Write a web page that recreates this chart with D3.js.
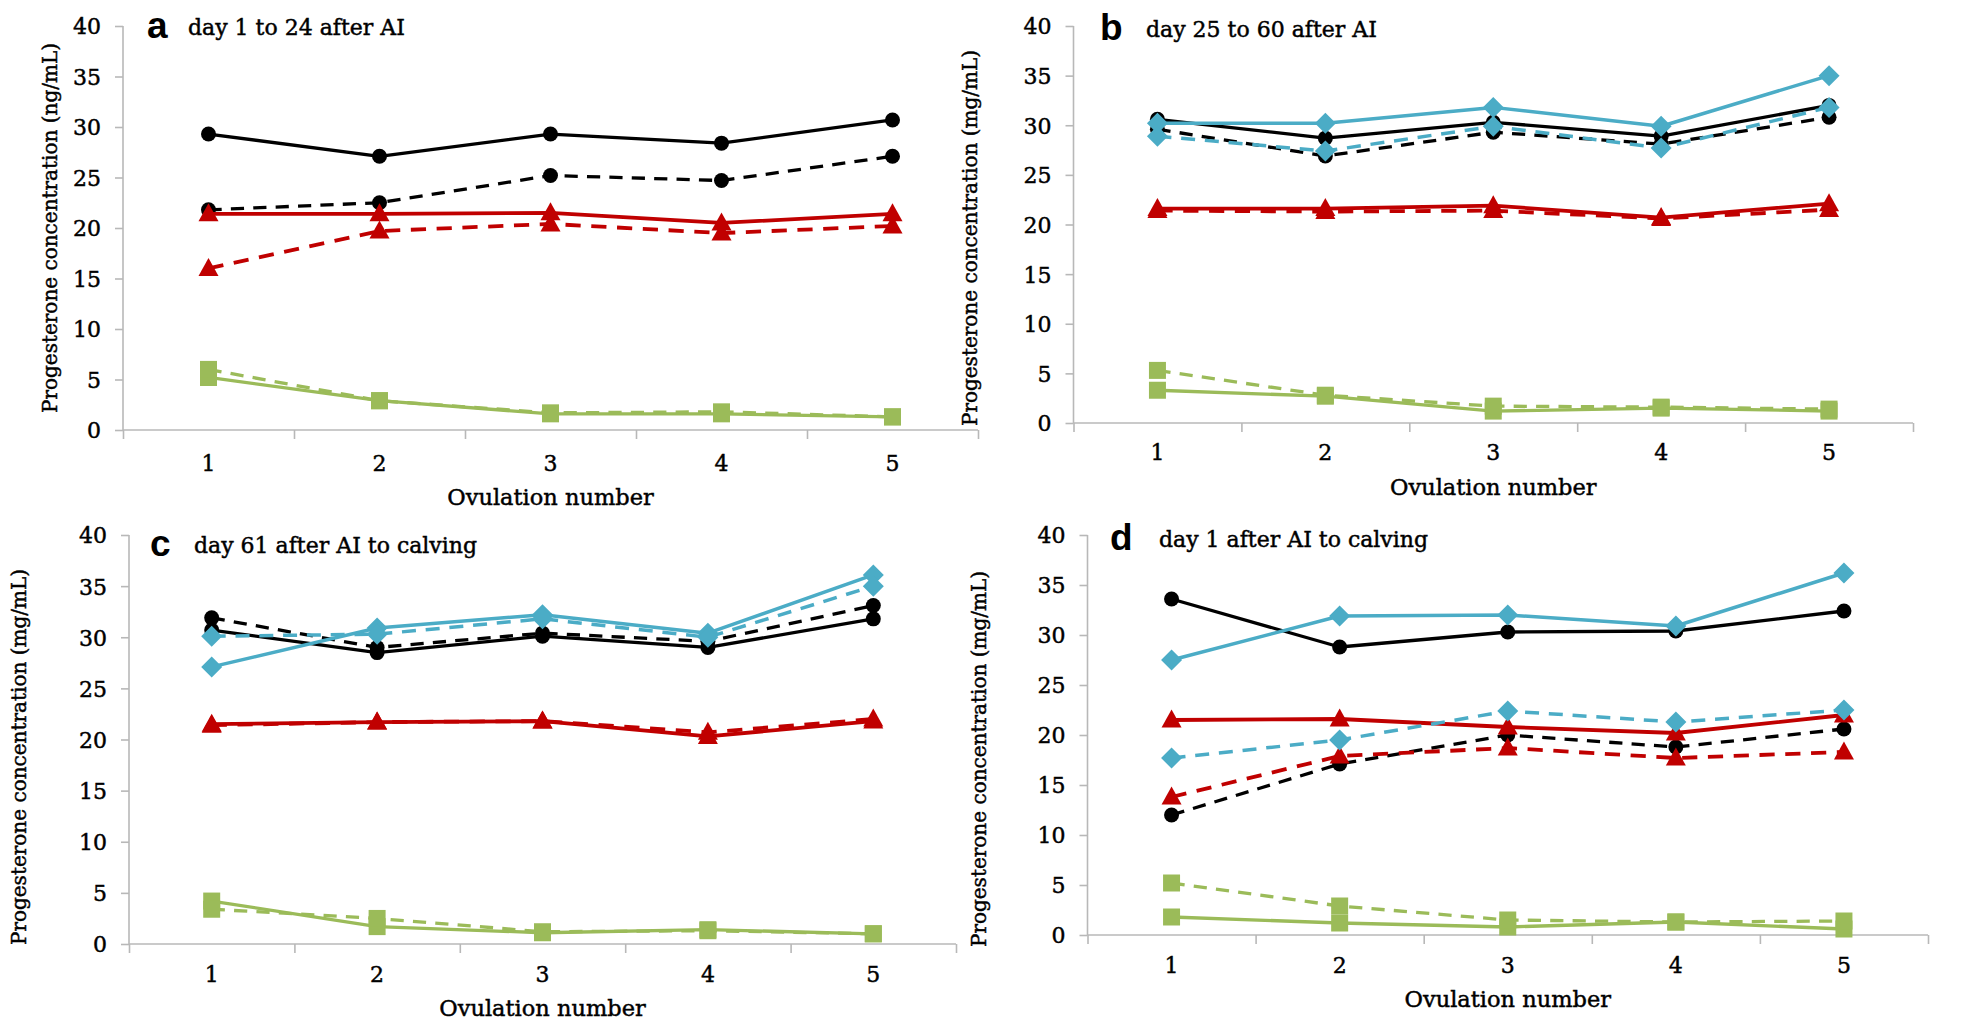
<!DOCTYPE html>
<html>
<head>
<meta charset="utf-8">
<script src="https://cdn.jsdelivr.net/npm/d3@7"></script>
<style>
  html, body { margin: 0; padding: 0; background: #fff; }
  svg { display: block; }
</style>
</head>
<body>
<svg id="chart" width="1961" height="1027"></svg>
<script>
// ---------------- DATA ----------------
const categories = [1, 2, 3, 4, 5];
const yTicks = [0, 5, 10, 15, 20, 25, 30, 35, 40];
const panelLetters = ["a", "b", "c", "d"];
const panelTitles = ["day 1 to 24 after AI", "day 25 to 60 after AI", "day 61 after AI to calving", "day 1 after AI to calving"];
const yAxisTitles = ["Progesterone concentration (ng/mL)", "Progesterone concentration (mg/mL)", "Progesterone concentration (mg/mL)", "Progesterone concentration (mg/mL)"];
const xAxisTitle = "Ovulation number";

// panel a
const a_blackSolid  = [29.3, 27.1, 29.3, 28.4, 30.7];
const a_blackDashed = [21.8, 22.5, 25.2, 24.7, 27.1];
const a_redSolid    = [21.4, 21.4, 21.5, 20.5, 21.4];
const a_redDashed   = [16.0, 19.7, 20.4, 19.5, 20.2];
const a_greenSolid  = [5.2, 2.9, 1.6, 1.6, 1.3];
const a_greenDashed = [6.0, 2.9, 1.7, 1.8, 1.3];
// panel b
const b_blackSolid  = [30.6, 28.7, 30.3, 28.9, 32.0];
const b_blackDashed = [29.6, 26.9, 29.3, 28.1, 30.8];
const b_redSolid    = [21.6, 21.6, 21.9, 20.7, 22.1];
const b_redDashed   = [21.4, 21.3, 21.4, 20.6, 21.5];
const b_greenSolid  = [3.3, 2.7, 1.2, 1.5, 1.2];
const b_greenDashed = [5.3, 2.8, 1.7, 1.6, 1.4];
const b_cyanSolid   = [30.2, 30.2, 31.8, 29.9, 35.0];
const b_cyanDashed  = [28.9, 27.4, 29.9, 27.7, 31.8];
// panel c
const c_blackSolid  = [30.7, 28.5, 30.1, 29.0, 31.8];
const c_blackDashed = [31.9, 29.0, 30.4, 29.6, 33.1];
const c_redSolid    = [21.5, 21.7, 21.8, 20.3, 21.8];
const c_redDashed   = [21.4, 21.7, 21.8, 20.7, 22.0];
const c_greenSolid  = [4.2, 1.7, 1.1, 1.4, 1.0];
const c_greenDashed = [3.4, 2.5, 1.2, 1.3, 1.0];
const c_cyanSolid   = [27.1, 30.9, 32.2, 30.4, 36.1];
const c_cyanDashed  = [30.1, 30.3, 31.8, 30.0, 35.0];
// panel d
const d_blackSolid  = [33.6, 28.8, 30.3, 30.4, 32.4];
const d_blackDashed = [12.0, 17.1, 20.0, 18.8, 20.6];
const d_redSolid    = [21.5, 21.6, 20.8, 20.2, 22.0];
const d_redDashed   = [13.8, 17.9, 18.7, 17.7, 18.3];
const d_greenSolid  = [1.8, 1.2, 0.8, 1.3, 0.6];
const d_greenDashed = [5.2, 2.9, 1.5, 1.3, 1.4];
const d_cyanSolid   = [27.5, 31.9, 32.0, 30.9, 36.2];
const d_cyanDashed  = [17.7, 19.5, 22.4, 21.3, 22.5];

// ---------------- STYLE / LAYOUT ----------------
const COLORS = { black: "#000000", red: "#c00000", green: "#9bbb59", cyan: "#4bacc6" };
const WIDTHS = { black: 3.3, red: 3.8, green: 3.3, cyan: 3.5 };
const SHAPES = { black: "circle", red: "triangle", green: "square", cyan: "diamond" };

function seriesFor(p) {
  const src = {
    a: [["black", false, a_blackSolid], ["black", true, a_blackDashed], ["red", false, a_redSolid], ["red", true, a_redDashed], ["green", false, a_greenSolid], ["green", true, a_greenDashed]],
    b: [["black", false, b_blackSolid], ["black", true, b_blackDashed], ["red", false, b_redSolid], ["red", true, b_redDashed], ["green", false, b_greenSolid], ["green", true, b_greenDashed], ["cyan", false, b_cyanSolid], ["cyan", true, b_cyanDashed]],
    c: [["black", false, c_blackSolid], ["black", true, c_blackDashed], ["red", false, c_redSolid], ["red", true, c_redDashed], ["green", false, c_greenSolid], ["green", true, c_greenDashed], ["cyan", false, c_cyanSolid], ["cyan", true, c_cyanDashed]],
    d: [["black", false, d_blackSolid], ["black", true, d_blackDashed], ["red", false, d_redSolid], ["red", true, d_redDashed], ["green", false, d_greenSolid], ["green", true, d_greenDashed], ["cyan", false, d_cyanSolid], ["cyan", true, d_cyanDashed]]
  }[p];
  return src.map(([color, dashed, values]) => ({ color, dashed, values }));
}

const layouts = [
  { left: 123,    right: 978,  top: 26,  bottom: 430, yLabX: 50,  yLabCY: 228, letterX: 147,  titleX: 188,  titleBase: 35,  tickBase: 41, xLabBase: 75 },
  { left: 1073.5, right: 1913, top: 26,  bottom: 423, yLabX: 970, yLabCY: 238, letterX: 1100, titleX: 1146, titleBase: 37,  tickBase: 37, xLabBase: 72 },
  { left: 129,    right: 956,  top: 535, bottom: 944, yLabX: 19,  yLabCY: 757, letterX: 150,  titleX: 194,  titleBase: 553, tickBase: 38, xLabBase: 72 },
  { left: 1087.5, right: 1928, top: 535, bottom: 935, yLabX: 979, yLabCY: 759, letterX: 1110, titleX: 1159, titleBase: 547, tickBase: 38, xLabBase: 72 }
];

const SERIF = "'DejaVu Serif', serif";
const AXIS_GRAY = "#b8b8b8";
const TEXT_STROKE = 0.45;
const svg = d3.select("#chart");

function markerPath(shape) {
  if (shape === "circle") return d3.symbol(d3.symbolCircle, Math.PI * 7.5 * 7.5)();
  if (shape === "square") return "M-8.5,-8.5H8.5V8.5H-8.5Z";
  if (shape === "triangle") return "M0,-10.5L10,7.5L-10,7.5Z";
  return "M0,-10.5L10.5,0L0,10.5L-10.5,0Z";
}

function serifText(sel, size) {
  return sel.attr("font-family", SERIF).attr("font-size", size).attr("fill", "#000")
    .attr("stroke", "#000").attr("stroke-width", TEXT_STROKE);
}

layouts.forEach((L, i) => {
  const g = svg.append("g");
  const x = d3.scaleBand().domain(categories).range([L.left, L.right]);
  const xEdge = d3.scaleLinear().domain([0, categories.length]).range([L.left, L.right]);
  const y = d3.scaleLinear().domain([0, 40]).range([L.bottom, L.top]);
  const cx = v => x(v) + x.bandwidth() / 2;

  // y axis
  const yAx = g.append("g").attr("transform", `translate(${L.left},0)`)
    .call(d3.axisLeft(y).tickValues(yTicks).tickSize(8).tickPadding(14).tickFormat(d3.format("d")));
  yAx.select(".domain").attr("stroke", AXIS_GRAY).attr("stroke-width", 1.6).attr("d", `M0,${L.top}V${L.bottom}`);
  yAx.selectAll(".tick line").attr("stroke", AXIS_GRAY).attr("stroke-width", 1.6);
  serifText(yAx.selectAll(".tick text"), 22).attr("dy", "0.36em");

  // x axis boundary ticks
  const xAxT = g.append("g").attr("transform", `translate(0,${L.bottom})`)
    .call(d3.axisBottom(xEdge).tickValues(d3.range(0, categories.length + 1)).tickSize(9).tickFormat(""));
  xAxT.select(".domain").attr("stroke", AXIS_GRAY).attr("stroke-width", 1.6).attr("d", `M${L.left},0H${L.right}`);
  xAxT.selectAll(".tick line").attr("stroke", AXIS_GRAY).attr("stroke-width", 1.6);

  // x axis labels
  const xAxL = g.append("g").attr("transform", `translate(0,${L.bottom})`)
    .call(d3.axisBottom(x).tickSize(0).tickPadding(0));
  xAxL.select(".domain").remove();
  serifText(xAxL.selectAll(".tick text"), 22).attr("y", L.tickBase).attr("dy", 0);

  // axis titles
  serifText(g.append("text"), 22.5).attr("x", (L.left + L.right) / 2).attr("y", L.bottom + L.xLabBase)
    .attr("text-anchor", "middle").text(xAxisTitle);
  serifText(g.append("text"), 20).attr("transform", `translate(${L.yLabX + 7},${L.yLabCY}) rotate(-90)`)
    .attr("text-anchor", "middle").text(yAxisTitles[i]);

  // panel letter and title
  g.append("text").attr("x", L.letterX).attr("y", L.titleBase + 3)
    .attr("font-family", "'Liberation Sans', Arial, sans-serif").attr("font-weight", "bold").attr("font-size", 37)
    .text(panelLetters[i]);
  serifText(g.append("text"), 22).attr("x", L.titleX).attr("y", L.titleBase).text(panelTitles[i]);

  // series
  const line = d3.line().x((d, k) => cx(categories[k])).y(d => y(d));
  seriesFor(panelLetters[i]).forEach(s => {
    const w = WIDTHS[s.color];
    g.append("path").datum(s.values)
      .attr("d", line)
      .attr("fill", "none")
      .attr("stroke", COLORS[s.color])
      .attr("stroke-width", w)
      .attr("stroke-dasharray", s.dashed ? `${(w * 4).toFixed(1)},${(w * 2.8).toFixed(1)}` : null)
      .attr("stroke-linejoin", "round");
    g.selectAll(null).data(s.values).enter().append("path")
      .attr("d", markerPath(SHAPES[s.color]))
      .attr("transform", (d, k) => `translate(${cx(categories[k])},${y(d)})`)
      .attr("fill", COLORS[s.color]);
  });
});
</script>
</body>
</html>
